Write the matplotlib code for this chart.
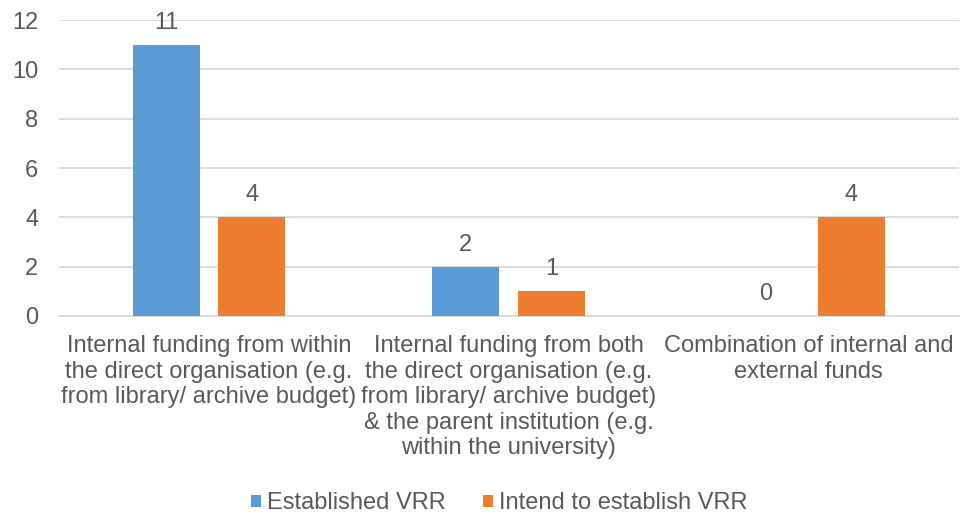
import matplotlib.pyplot as plt
import numpy as np

categories = [
    "Internal funding from within\nthe direct organisation (e.g.\nfrom library/ archive budget)",
    "Internal funding from both\nthe direct organisation (e.g.\nfrom library/ archive budget)\n& the parent institution (e.g.\nwithin the university)",
    "Combination of internal and\nexternal funds",
]
established = [11, 2, 0]
intend = [4, 1, 4]
series_names = ["Established VRR", "Intend to establish VRR"]

plt.rcParams['font.family'] = ['Liberation Sans', 'DejaVu Sans']
text_color = '#595959'
blue = '#5B9BD5'
orange = '#ED7D31'
fs = 17

fig = plt.figure(figsize=(9.6, 5.16), dpi=100)
ax = fig.add_axes([0.0615, 0.3876, 0.937, 0.5736])

x = np.arange(len(categories))
w = 0.223
off = 0.143
b1 = ax.bar(x - off, established, w, color=blue, label=series_names[0], zorder=3)
b2 = ax.bar(x + off, intend, w, color=orange, label=series_names[1], zorder=3)

for bars in (b1, b2):
    for r in bars:
        h = r.get_height()
        ax.annotate(str(int(h)), (r.get_x() + r.get_width() / 2, h),
                    xytext=(0, 8), textcoords='offset points',
                    ha='center', va='bottom', fontsize=fs, color=text_color)

ax.set_xlim(-0.5, 2.5)
ax.set_ylim(0, 12)
ax.set_yticks(range(0, 13, 2))
ax.set_xticks(x)
ax.set_xticklabels(categories, fontsize=fs, color=text_color, linespacing=1.2)
ax.tick_params(axis='y', labelsize=fs, labelcolor=text_color, length=0, pad=15)
ax.tick_params(axis='x', length=0, pad=14)
ax.grid(axis='y', color='#D9D9D9', linewidth=1.3, zorder=0)
for s in ['top', 'right', 'left']:
    ax.spines[s].set_visible(False)
ax.spines['bottom'].set_color('#D9D9D9')
ax.spines['bottom'].set_linewidth(1.3)

fig.legend(loc='lower center', ncol=2, frameon=False, fontsize=fs,
           labelcolor=text_color, handlelength=0.42, handleheight=0.42,
           handletextpad=0.25, columnspacing=1.6, bbox_to_anchor=(0.52, -0.038))

fig.savefig('out.png', dpi=100)
